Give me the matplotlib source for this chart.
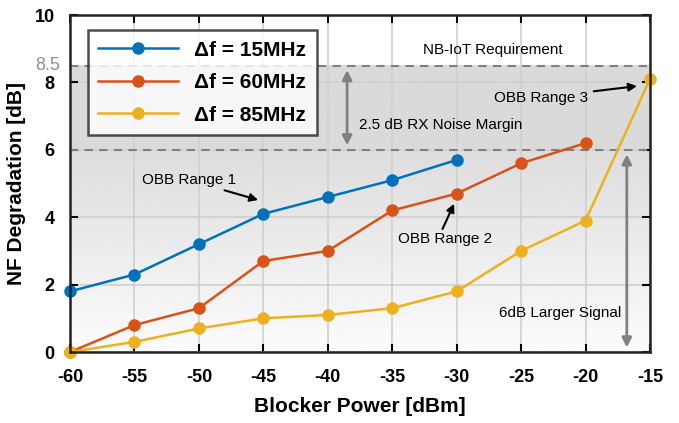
import numpy as np
import matplotlib
matplotlib.use('Agg')
import matplotlib.pyplot as plt

plt.rcParams['font.family'] = ['Liberation Sans', 'DejaVu Sans']

# data
x15 = [-60, -55, -50, -45, -40, -35, -30]
y15 = [1.8, 2.3, 3.2, 4.1, 4.6, 5.1, 5.7]
x60 = [-60, -55, -50, -45, -40, -35, -30, -25, -20]
y60 = [0, 0.8, 1.3, 2.7, 3.0, 4.2, 4.7, 5.6, 6.2]
x85 = [-60, -55, -50, -45, -40, -35, -30, -25, -20, -15]
y85 = [0, 0.3, 0.7, 1.0, 1.1, 1.3, 1.8, 3.0, 3.9, 8.1]
labels = ['\u0394f = 15MHz', '\u0394f = 60MHz', '\u0394f = 85MHz']
colors = ['#0072BD', '#D95319', '#EDB120']
xticks = [-60, -55, -50, -45, -40, -35, -30, -25, -20, -15]
yticks = [0, 2, 4, 6, 8, 10]
req_level = 8.5
margin_level = 6.0

fig = plt.figure(figsize=(6.79, 4.23), dpi=100)
ax = fig.add_axes([0.1031, 0.1678, 0.8542, 0.7967])

# gray gradient background below the requirement
yy = np.linspace(0, req_level, 200)
shade = np.where(yy < margin_level, 0.985 - (0.985 - 0.865) * yy / margin_level, 0.855)
img = np.repeat(shade[:, None], 2, axis=1)
ax.imshow(img, extent=[-60, -15, 0, req_level], origin='lower', cmap='gray',
          vmin=0, vmax=1, aspect='auto', zorder=0)

ax.grid(True, color='#d0d0d0', linewidth=1.2, zorder=1)
ax.axhline(req_level, color='#808080', linestyle=(0, (4, 3)), linewidth=1.5, zorder=2)
ax.axhline(margin_level, color='#808080', linestyle=(0, (4, 3)), linewidth=1.5, zorder=2)

for xs, ys, lab, c in zip([x15, x60, x85], [y15, y60, y85], labels, colors):
    ax.plot(xs, ys, '-o', color=c, label=lab, linewidth=1.8, markersize=8,
            clip_on=False, zorder=5)

# annotations
ax.text(-27.2, 8.75, 'NB-IoT Requirement', fontsize=11, ha='center', va='bottom')
ax.annotate('', xy=(-38.5, 8.45), xytext=(-38.5, 6.05),
            arrowprops=dict(arrowstyle='<|-|>', color='#808080', lw=2, mutation_scale=14))
ax.text(-37.6, 6.75, '2.5 dB RX Noise Margin', fontsize=11, ha='left', va='center')
ax.annotate('', xy=(-16.8, 5.95), xytext=(-16.8, 0.05),
            arrowprops=dict(arrowstyle='<|-|>', color='#808080', lw=2, mutation_scale=14))
ax.text(-17.2, 1.15, '6dB Larger Signal', fontsize=11, ha='right', va='center')
ax.annotate('OBB Range 1', xy=(-45.3, 4.5), xytext=(-47.1, 5.1), fontsize=11,
            ha='right', va='center',
            arrowprops=dict(arrowstyle='-|>', color='black', lw=1.5, mutation_scale=12,
                            shrinkA=1, shrinkB=1))
ax.annotate('', xy=(-30.2, 4.4), xytext=(-31.1, 3.65),
            arrowprops=dict(arrowstyle='-|>', color='black', lw=1.5, mutation_scale=12,
                            shrinkA=0, shrinkB=0))
ax.text(-30.9, 3.35, 'OBB Range 2', fontsize=11, ha='center', va='center')
ax.annotate('OBB Range 3', xy=(-15.8, 7.9), xytext=(-19.8, 7.55), fontsize=11,
            ha='right', va='center',
            arrowprops=dict(arrowstyle='-|>', color='black', lw=1.5, mutation_scale=12))

ax.set_xlim(-60, -15)
ax.set_ylim(0, 10)
ax.set_xticks(xticks)
ax.set_yticks(yticks)
ax.set_xticklabels([str(v) for v in xticks], fontsize=13, fontweight='bold')
ax.set_yticklabels([str(v) for v in yticks], fontsize=13, fontweight='bold')
ax.text(-60.8, req_level, '8.5', color='#909090', fontsize=13, ha='right', va='center',
        transform=ax.transData, clip_on=False)
ax.tick_params(direction='in', length=6, width=1.5, top=True, right=True)
ax.tick_params(axis='x', pad=12)
ax.tick_params(axis='y', pad=11)
for s in ax.spines.values():
    s.set_linewidth(1.8)
    s.set_color('#222222')
    s.set_zorder(6)

ax.set_xlabel('Blocker Power [dBm]', fontsize=15, fontweight='bold', labelpad=8)
ax.set_ylabel('NF Degradation [dB]', fontsize=15, fontweight='bold', labelpad=6)

leg = ax.legend(loc='upper left', bbox_to_anchor=(0.031, 0.955), borderaxespad=0,
                prop={'weight': 'bold', 'size': 15}, handlelength=3.8, frameon=True,
                fancybox=False, edgecolor='#222222', borderpad=0.5, labelspacing=0.65)
leg.get_frame().set_linewidth(1.8)
leg.set_zorder(10)

plt.savefig('out.png', dpi=100)
